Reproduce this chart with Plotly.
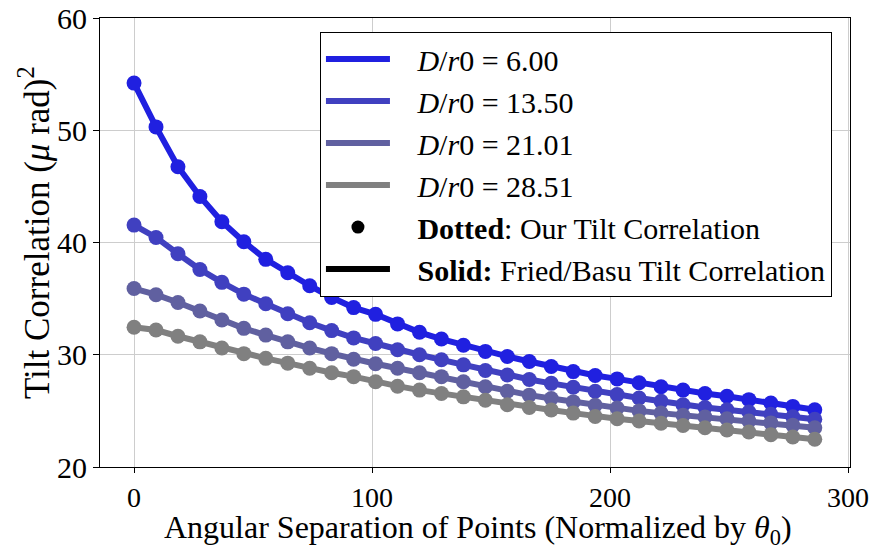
import plotly.graph_objects as go

# Angular separation (normalized by theta_0), 32 sample points
x_sep = [0.0, 9.23, 18.45, 27.68, 36.9, 46.13, 55.35, 64.58, 73.81, 83.03,
         92.26, 101.48, 110.71, 119.94, 129.16, 138.39, 147.61, 156.84, 166.06, 175.29,
         184.52, 193.74, 202.97, 212.19, 221.42, 230.65, 239.87, 249.1, 258.32, 267.55,
         276.77, 286.0]

labels = ["6.00", "13.50", "21.01", "28.51"]

tilt_6_00 = [54.2, 50.3, 46.75, 44.1, 41.85, 40.07, 38.5, 37.3, 36.15, 35.1,
             34.2, 33.6, 32.75, 32.0, 31.4, 30.85, 30.3, 29.85, 29.4, 28.95,
             28.5, 28.15, 27.85, 27.5, 27.15, 26.85, 26.55, 26.3, 26.0, 25.7,
             25.4, 25.1]
tilt_13_50 = [41.55, 40.45, 39.0, 37.6, 36.45, 35.4, 34.55, 33.65, 32.85, 32.15,
              31.5, 31.0, 30.45, 30.0, 29.55, 29.1, 28.6, 28.2, 27.8, 27.45,
              27.1, 26.75, 26.45, 26.15, 25.85, 25.55, 25.3, 25.1, 24.9, 24.7,
              24.48, 24.25]
tilt_21_01 = [35.9, 35.35, 34.65, 33.9, 33.1, 32.35, 31.75, 31.15, 30.6, 30.1,
              29.6, 29.2, 28.8, 28.4, 28.05, 27.6, 27.15, 26.75, 26.4, 26.1,
              25.8, 25.5, 25.25, 25.0, 24.8, 24.6, 24.45, 24.3, 24.1, 23.93,
              23.73, 23.5]
tilt_28_51 = [32.45, 32.2, 31.65, 31.15, 30.6, 30.1, 29.68, 29.25, 28.8, 28.4,
              28.05, 27.6, 27.2, 26.85, 26.55, 26.25, 25.95, 25.55, 25.3, 25.08,
              24.8, 24.5, 24.3, 24.1, 23.9, 23.7, 23.5, 23.3, 23.12, 22.88,
              22.67, 22.47]

series = [tilt_6_00, tilt_13_50, tilt_21_01, tilt_28_51]
colors = ["rgb(32,32,224)", "rgb(64,64,192)", "rgb(96,96,160)", "rgb(128,128,128)"]

x_ticks = [0, 100, 200, 300]
y_ticks = [20, 30, 40, 50, 60]

x_title = "Angular Separation of Points (Normalized by <i>θ</i><sub>0</sub>)"
y_title = "Tilt Correlation (<i>μ</i> rad)<sup>2</sup>"

FONT = "Liberation Serif"
GAP = "\u00a0\u00a0\u00a0"

fig = go.Figure()
for i, (ys, c, lab) in enumerate(zip(series, colors, labels)):
    fig.add_trace(go.Scatter(
        x=x_sep, y=ys, mode="lines",
        line=dict(color=c, width=6),
        name=f"{GAP}<i>D</i>/<i>r</i>0 = {lab}",
        legendgroup=f"g{i}", showlegend=True,
    ))
    fig.add_trace(go.Scatter(
        x=x_sep, y=ys, mode="markers",
        marker=dict(color=c, size=15),
        legendgroup=f"g{i}", showlegend=False,
    ))

fig.add_trace(go.Scatter(
    x=[None], y=[None], mode="markers",
    marker=dict(color="black", size=13),
    name=f"{GAP}<b>Dotted</b>: Our Tilt Correlation", legendgroup="g4",
))
fig.add_trace(go.Scatter(
    x=[None], y=[None], mode="lines",
    line=dict(color="black", width=6),
    name=f"{GAP}<b>Solid:</b> Fried/Basu Tilt Correlation", legendgroup="g5",
))

axis_common = dict(
    showline=True, linecolor="black", linewidth=1.2, mirror=True,
    ticks="outside", tickcolor="black", tickwidth=1.2,
    showgrid=True, gridcolor="rgb(205,205,205)", gridwidth=1.2,
    zeroline=False, automargin=False,
)

fig.update_layout(
    width=873, height=550,
    margin=dict(l=100, r=23, t=18, b=83),
    plot_bgcolor="white", paper_bgcolor="white",
    font=dict(family=FONT, color="black"),
    xaxis=dict(range=[-14.3, 300.8], tickvals=x_ticks, ticklen=5,
               tickfont=dict(family=FONT, size=28, color="black"),
               **axis_common),
    yaxis=dict(range=[20, 60], tickvals=y_ticks, ticklen=6,
               tickfont=dict(family=FONT, size=30, color="black"),
               **axis_common),
    legend=dict(
        x=0.293, y=0.969, xanchor="left", yanchor="top",
        bgcolor="white", bordercolor="black", borderwidth=1.2,
        font=dict(family=FONT, size=30, color="black"),
        tracegroupgap=0, itemwidth=64,
    ),
    annotations=[
        dict(text=x_title, xref="paper", yref="paper", x=0.504, y=0,
             xanchor="center", yanchor="middle", yshift=-62, showarrow=False,
             font=dict(family=FONT, size=32, color="black")),
        dict(text=y_title, xref="paper", yref="paper", x=0, y=0.521,
             xanchor="center", yanchor="middle", xshift=-66, textangle=-90,
             showarrow=False, font=dict(family=FONT, size=35, color="black")),
    ],
)

fig.write_html("out.html")
